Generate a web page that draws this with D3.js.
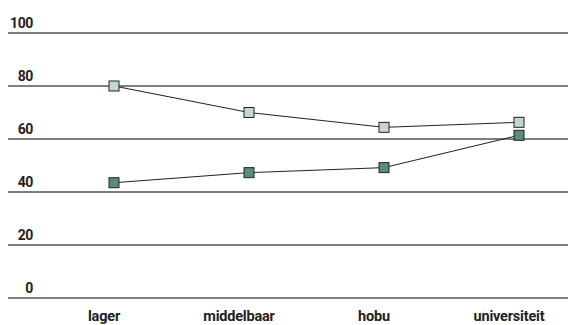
<!DOCTYPE html>
<html><head><meta charset="utf-8">
<script src="https://cdn.jsdelivr.net/npm/d3@7"></script>
<style>body{margin:0;background:#fff}svg{display:block}text{font-family:Roboto,"Liberation Sans",sans-serif;font-weight:bold;fill:#222}</style>
</head><body><svg id="c" width="568" height="325"></svg>
<script>
const categories = ["lager","middelbaar","hobu","universiteit"];
const seriesLight = [80, 70, 64.4, 66.3];
const seriesDark = [43.5, 47.3, 49.2, 61.4];
const yTicks = [0, 20, 40, 60, 80, 100];

const svg = d3.select("#c");
const x = d3.scalePoint().domain(categories).range([114, 519]);
const y = d3.scaleLinear().domain([0, 100]).range([298, 33]);

const g = svg.append("g");
yTicks.forEach(t => {
  g.append("line").attr("x1", 8).attr("x2", 568).attr("y1", y(t)).attr("y2", y(t))
    .attr("stroke", "#555").attr("stroke-width", 1.5);
  g.append("text").attr("x", 33).attr("y", y(t) - 5).attr("text-anchor", "end")
    .attr("font-size", 14).attr("letter-spacing", -0.4).text(t);
});
categories.forEach(c => {
  g.append("text").attr("x", x(c) - 10).attr("y", 321).attr("text-anchor", "middle")
    .attr("font-size", 14.5).attr("letter-spacing", -0.2).text(c);
});

function drawSeries(vals, fill) {
  const line = d3.line().x((d, i) => x(categories[i])).y(d => y(d));
  svg.append("path").attr("d", line(vals)).attr("fill", "none").attr("stroke", "#222").attr("stroke-width", 1);
  svg.selectAll(null).data(vals).enter().append("rect")
    .attr("x", (d, i) => x(categories[i]) - 5).attr("y", d => y(d) - 5)
    .attr("width", 10).attr("height", 10)
    .attr("fill", fill).attr("stroke", "#222").attr("stroke-width", 1);
}
drawSeries(seriesLight, "#c3d8cd");
drawSeries(seriesDark, "#5a8d77");
</script></body></html>
